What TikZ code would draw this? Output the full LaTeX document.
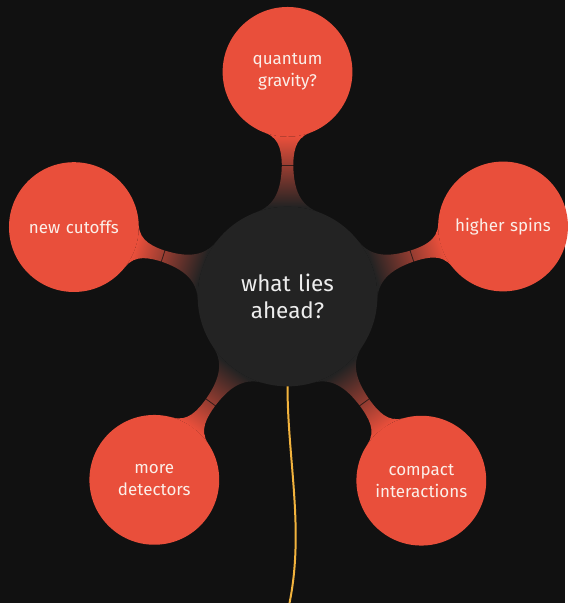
\documentclass[tikz,border=0pt]{standalone}
\usepackage{fontspec}
\setmainfont{Fira Sans}
\usetikzlibrary{mindmap,backgrounds,calc}

\definecolor{bgdark}{HTML}{111111}
\definecolor{hubgray}{HTML}{232323}
\definecolor{leafred}{HTML}{E94F3B}
\definecolor{leaftext}{HTML}{FBEFE9}
\definecolor{hubtext}{HTML}{EDEDED}
\definecolor{threadgold}{HTML}{F2B33D}

\begin{document}
\begin{tikzpicture}[x=1bp,y=1bp,
  mindmap,
  hub/.style={concept, concept color=hubgray, fill=hubgray, circle, draw=none,
    minimum size=180bp, text width=150bp, align=center, text=hubtext,
    font=\fontsize{22.5bp}{27bp}\selectfont},
  leaf/.style={concept, concept color=leafred, fill=leafred, circle, draw=none,
    minimum size=130bp, text width=120bp, align=center, text=leaftext,
    font=\fontsize{17bp}{22bp}\selectfont},
  link/.style={circle connection bar switch color=from (hubgray) to (leafred)},
  seam/.style={draw=bgdark, draw opacity=0.75, line width=0.8bp},
]
% hub and the five topics around it
\node[hub] (hub) at (0,0) {what lies\\ahead?};
\node[leaf] (gravity)  at (90:225)   {quantum\\gravity?};
\node[leaf] (spins)    at (18:227)   {higher spins};
\node[leaf] (compact)  at (-54:228)  {compact\\interactions};
\node[leaf] (detect)   at (-126:227) {more\\detectors};
\node[leaf] (cutoffs)  at (162:225)  {new cutoffs};
\coordinate (threadend) at (2,-307);

\begin{scope}[on background layer]
  \fill[bgdark] (-288,-307) rectangle (278,297);
  \foreach \leafname in {gravity,spins,compact,detect,cutoffs}{
    \path (hub) to[link] (\leafname);
  }
\end{scope}

% thin joint where each bar switches colour
\foreach \leafname in {gravity,spins,compact,detect,cutoffs}{
  \draw[seam] ($(hub)!131bp!(\leafname)!6.5bp!90:(\leafname)$)
           -- ($(hub)!131bp!(\leafname)!6.5bp!-90:(\leafname)$);
}

% thread hanging below the hub
\draw[threadgold, line width=2bp] (hub.south) .. controls (0,-163) and (17,-233) .. (threadend);

\useasboundingbox (-288,-307) rectangle (278,297);
\end{tikzpicture}
\end{document}
